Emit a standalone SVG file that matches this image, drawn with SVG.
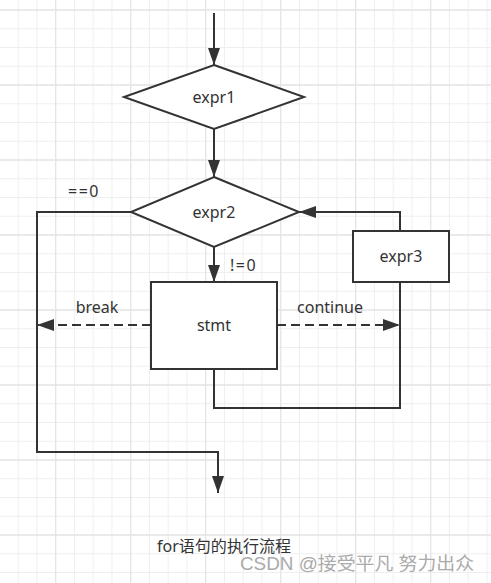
<svg xmlns="http://www.w3.org/2000/svg" width="491" height="583" viewBox="0 0 491 583">
<style>
.minor{stroke:#efefef;stroke-width:1;fill:none}
.major{stroke:#e4e4e4;stroke-width:1.3;fill:none}
.shape{fill:#fff;stroke:#333;stroke-width:2}
.conn{fill:none;stroke:#333;stroke-width:2}
.dash{stroke-dasharray:9 5}
.lbl{font-family:"Noto Sans","Liberation Sans",sans-serif;font-size:16px;fill:#333}
.mid{text-anchor:middle}
</style>
<defs>
<marker id="arr" markerUnits="userSpaceOnUse" markerWidth="18" markerHeight="13" refX="17" refY="6" orient="auto">
<path d="M0,0 L17,6 L0,12 Z" fill="#333"/>
</marker>
</defs>
<rect width="491" height="583" fill="#fff"/>
<g id="grid">
<path class="minor" d="M18.2,0V583M36.95,0V583M74.45,0V583M93.2,0V583M111.95,0V583M149.45,0V583M168.2,0V583M186.95,0V583M224.45,0V583M243.2,0V583M261.95,0V583M299.45,0V583M318.2,0V583M336.95,0V583M374.45,0V583M393.2,0V583M411.95,0V583M449.45,0V583M468.2,0V583M486.95,0V583
M0,28.75H491M0,47.5H491M0,66.25H491M0,103.75H491M0,122.5H491M0,141.25H491M0,178.75H491M0,197.5H491M0,216.25H491M0,253.75H491M0,272.5H491M0,291.25H491M0,328.75H491M0,347.5H491M0,366.25H491M0,403.75H491M0,422.5H491M0,441.25H491M0,478.75H491M0,497.5H491M0,516.25H491M0,553.75H491M0,572.5H491"/>
<path class="major" d="M55.7,0V583M130.7,0V583M205.7,0V583M280.7,0V583M355.7,0V583M430.7,0V583M0,10H491M0,85H491M0,160H491M0,235H491M0,310H491M0,385H491M0,460H491M0,535H491"/>
</g>
<g id="connectors">
<path class="conn" d="M214,13V65" marker-end="url(#arr)"/>
<path class="conn" d="M214,129V177" marker-end="url(#arr)"/>
<path class="conn" d="M214,247V282" marker-end="url(#arr)"/>
<path class="conn" d="M400,231V212H299" marker-end="url(#arr)"/>
<path class="conn" d="M214,369V408H400V282"/>
<path class="conn dash" d="M277,325H400" marker-end="url(#arr)"/>
<path class="conn dash" d="M151,325H37" marker-end="url(#arr)"/>
<path class="conn" d="M131,212H37V452H218V493" marker-end="url(#arr)"/>
<text class="lbl" x="68" y="197" letter-spacing="1.5">==0</text>
<text class="lbl" x="230" y="271" letter-spacing="1.5">!=0</text>
<text class="lbl mid" x="97" y="313">break</text>
<text class="lbl mid" x="330" y="313">continue</text>
</g>
<g id="expr1">
<polygon class="shape" points="214,65 304,97 214,129 124,97"/>
<text class="lbl mid" x="214" y="103">expr1</text>
</g>
<g id="expr2">
<polygon class="shape" points="214,177 299,212 214,247 131,212"/>
<text class="lbl mid" x="214" y="218">expr2</text>
</g>
<g id="stmt">
<rect class="shape" x="151" y="282" width="126" height="87"/>
<text class="lbl mid" x="214" y="331">stmt</text>
</g>
<g id="expr3">
<rect class="shape" x="353" y="231" width="96" height="51"/>
<text class="lbl mid" x="401" y="262">expr3</text>
</g>
<g id="caption">
<text x="157" y="552" style="font-family:'Noto Sans','Noto Sans CJK SC',sans-serif;font-size:16px;fill:#333" textLength="134" lengthAdjust="spacingAndGlyphs">for语句的执行流程</text>
<text x="240" y="570" style="font-family:'Liberation Sans','Noto Sans CJK SC',sans-serif;font-size:18px;fill:#aaa" textLength="234" lengthAdjust="spacingAndGlyphs">CSDN @接受平凡 努力出众</text>
</g>
</svg>
